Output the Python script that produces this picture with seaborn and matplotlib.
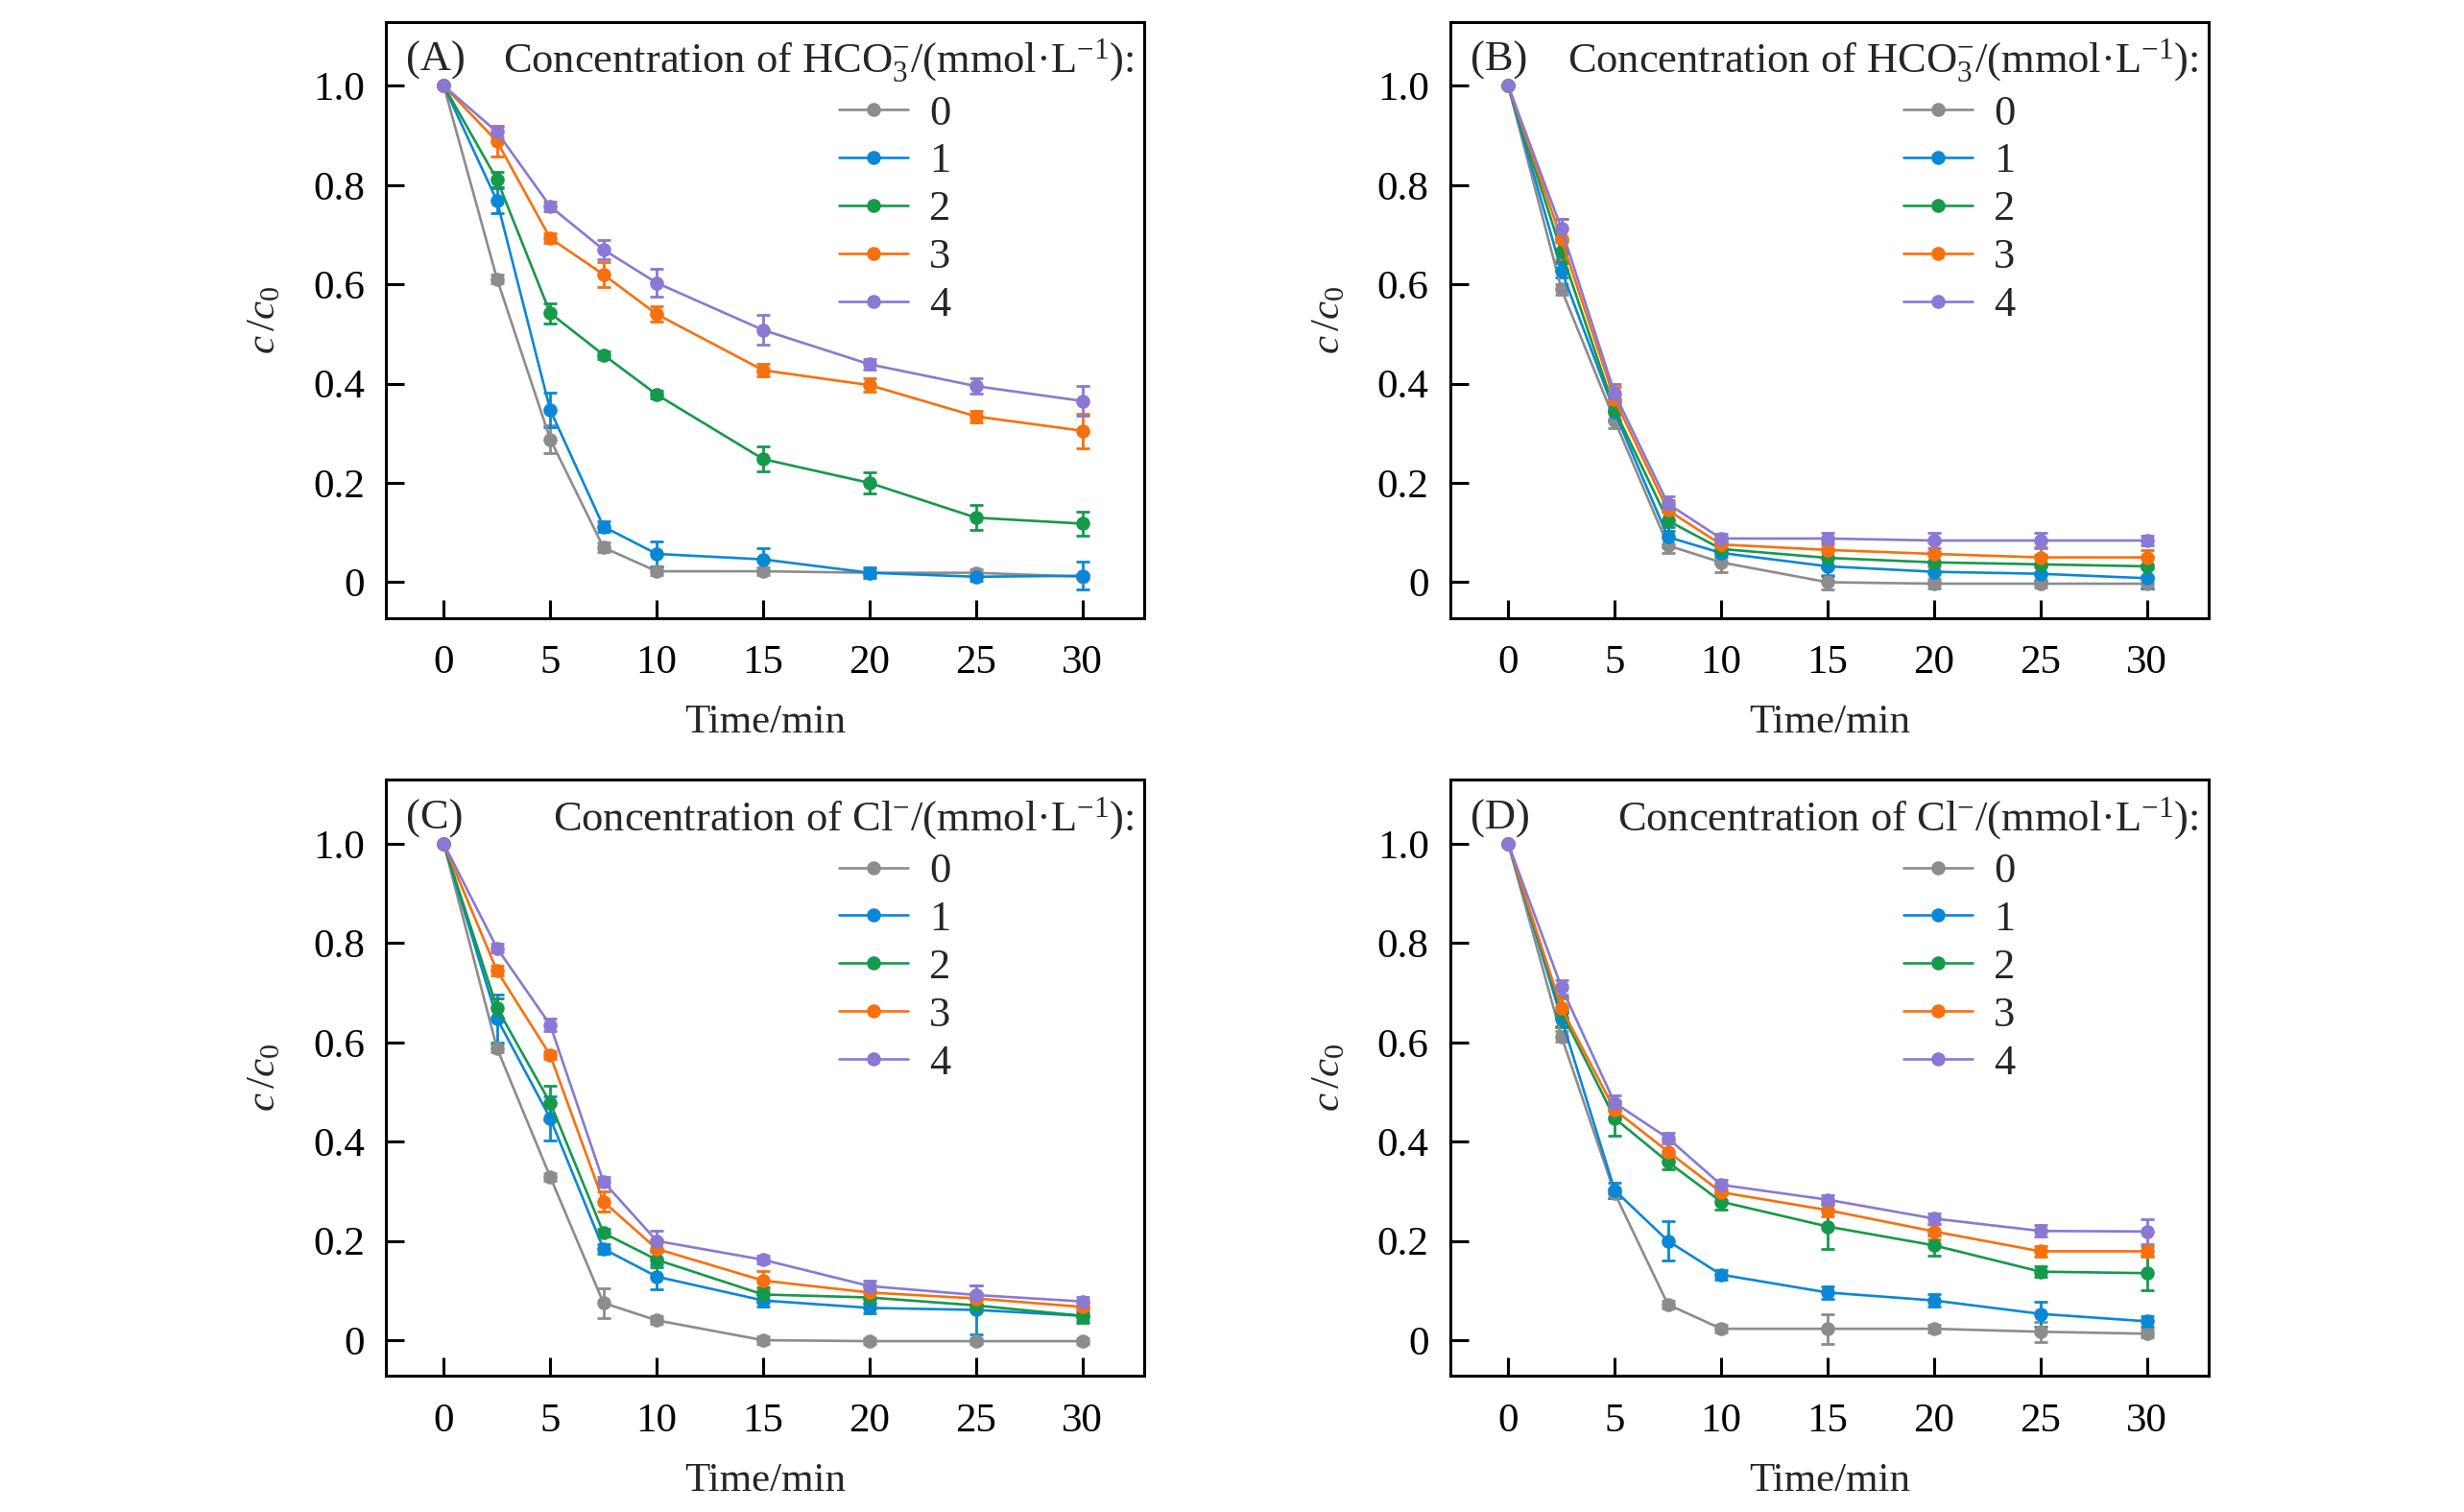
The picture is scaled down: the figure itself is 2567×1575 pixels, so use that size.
import numpy as np
import pandas as pd
import matplotlib
matplotlib.use('Agg')
import matplotlib.pyplot as plt
from matplotlib.lines import Line2D
import seaborn as sns

# time points (min) and concentration levels
times = [0, 2.5, 5, 7.5, 10, 15, 20, 25, 30]
conc_levels = ['0', '1', '2', '3', '4']
colors = ['#8c8c8c', '#0a87d6', '#15994a', '#f7700e', '#8a78d4']

xticks = [0, 5, 10, 15, 20, 25, 30]
yticks = [0, 0.2, 0.4, 0.6, 0.8, 1.0]
yticklabels = ['0', '0.2', '0.4', '0.6', '0.8', '1.0']

# (A) HCO3-
a_0 = [1.0, 0.611, 0.288, 0.070, 0.022, 0.022, 0.019, 0.019, 0.011]
a_1 = [1.0, 0.768, 0.347, 0.112, 0.057, 0.046, 0.019, 0.011, 0.013]
a_2 = [1.0, 0.811, 0.542, 0.458, 0.378, 0.248, 0.200, 0.130, 0.118]
a_3 = [1.0, 0.888, 0.693, 0.620, 0.540, 0.427, 0.397, 0.334, 0.305]
a_4 = [1.0, 0.907, 0.757, 0.670, 0.603, 0.508, 0.439, 0.395, 0.365]
a_0e = [0, 0.008, 0.028, 0.010, 0.008, 0.008, 0.008, 0.008, 0.005]
a_1e = [0, 0.025, 0.034, 0.010, 0.025, 0.022, 0.010, 0.008, 0.028]
a_2e = [0, 0.015, 0.020, 0.008, 0.008, 0.025, 0.022, 0.025, 0.025]
a_3e = [0, 0.031, 0.010, 0.025, 0.015, 0.012, 0.013, 0.012, 0.035]
a_4e = [0, 0.010, 0.010, 0.020, 0.028, 0.030, 0.010, 0.015, 0.030]

# (B) HCO3-
b_0 = [1.0, 0.590, 0.326, 0.074, 0.040, 0.000, -0.003, -0.003, -0.003]
b_1 = [1.0, 0.628, 0.343, 0.091, 0.059, 0.032, 0.021, 0.017, 0.008]
b_2 = [1.0, 0.666, 0.347, 0.124, 0.067, 0.049, 0.040, 0.036, 0.032]
b_3 = [1.0, 0.691, 0.368, 0.145, 0.076, 0.065, 0.057, 0.050, 0.050]
b_4 = [1.0, 0.712, 0.380, 0.158, 0.088, 0.088, 0.084, 0.084, 0.084]
b_0e = [0, 0.010, 0.015, 0.015, 0.020, 0.015, 0.010, 0.008, 0.010]
b_1e = [0, 0.015, 0.020, 0.020, 0.020, 0.020, 0.020, 0.015, 0.020]
b_2e = [0, 0.020, 0.020, 0.020, 0.015, 0.020, 0.020, 0.020, 0.020]
b_3e = [0, 0.040, 0.025, 0.020, 0.015, 0.015, 0.025, 0.020, 0.015]
b_4e = [0, 0.020, 0.020, 0.015, 0.010, 0.012, 0.015, 0.015, 0.010]

# (C) Cl-
c_0 = [1.0, 0.588, 0.329, 0.075, 0.040, 0.000, -0.002, -0.002, -0.002]
c_1 = [1.0, 0.648, 0.447, 0.184, 0.128, 0.080, 0.065, 0.061, 0.049]
c_2 = [1.0, 0.669, 0.478, 0.216, 0.162, 0.092, 0.086, 0.070, 0.049]
c_3 = [1.0, 0.744, 0.574, 0.279, 0.184, 0.120, 0.096, 0.084, 0.067]
c_4 = [1.0, 0.790, 0.635, 0.319, 0.200, 0.162, 0.109, 0.091, 0.078]
c_0e = [0, 0.008, 0.008, 0.030, 0.008, 0.008, 0.005, 0.005, 0.005]
c_1e = [0, 0.048, 0.045, 0.010, 0.025, 0.012, 0.010, 0.049, 0.010]
c_2e = [0, 0.020, 0.035, 0.008, 0.015, 0.015, 0.012, 0.012, 0.015]
c_3e = [0, 0.010, 0.008, 0.020, 0.020, 0.020, 0.012, 0.010, 0.010]
c_4e = [0, 0.008, 0.012, 0.010, 0.020, 0.008, 0.010, 0.020, 0.010]

# (D) Cl-
d_0 = [1.0, 0.612, 0.296, 0.072, 0.023, 0.023, 0.023, 0.017, 0.013]
d_1 = [1.0, 0.648, 0.302, 0.200, 0.132, 0.096, 0.080, 0.053, 0.038]
d_2 = [1.0, 0.661, 0.447, 0.359, 0.279, 0.229, 0.191, 0.138, 0.135]
d_3 = [1.0, 0.669, 0.464, 0.380, 0.298, 0.262, 0.219, 0.179, 0.179]
d_4 = [1.0, 0.711, 0.478, 0.407, 0.313, 0.283, 0.245, 0.220, 0.219]
d_0e = [0, 0.010, 0.010, 0.008, 0.008, 0.030, 0.008, 0.020, 0.008]
d_1e = [0, 0.015, 0.015, 0.040, 0.010, 0.012, 0.012, 0.025, 0.010]
d_2e = [0, 0.030, 0.035, 0.015, 0.015, 0.045, 0.020, 0.010, 0.035]
d_3e = [0, 0.020, 0.015, 0.020, 0.015, 0.012, 0.015, 0.010, 0.010]
d_4e = [0, 0.015, 0.015, 0.010, 0.010, 0.010, 0.010, 0.012, 0.025]

title_hco3 = r'Concentration of HCO$_3^{-}$/(mmol·L$^{-1}$):'
title_cl = r'Concentration of Cl$^{-}$/(mmol·L$^{-1}$):'

panels = [
    ('(A)', title_hco3, [a_0, a_1, a_2, a_3, a_4], [a_0e, a_1e, a_2e, a_3e, a_4e]),
    ('(B)', title_hco3, [b_0, b_1, b_2, b_3, b_4], [b_0e, b_1e, b_2e, b_3e, b_4e]),
    ('(C)', title_cl, [c_0, c_1, c_2, c_3, c_4], [c_0e, c_1e, c_2e, c_3e, c_4e]),
    ('(D)', title_cl, [d_0, d_1, d_2, d_3, d_4], [d_0e, d_1e, d_2e, d_3e, d_4e]),
]

sns.set_style('ticks')
plt.rcParams['font.family'] = ['Liberation Serif', 'DejaVu Serif']
plt.rcParams['mathtext.fontset'] = 'custom'
plt.rcParams['mathtext.rm'] = 'Liberation Serif'
plt.rcParams['mathtext.it'] = 'Liberation Serif:italic'
plt.rcParams['mathtext.bf'] = 'Liberation Serif:bold'

fig = plt.figure(figsize=(25.67, 15.75), dpi=100)
positions = [
    [0.1566, 0.5913, 0.3078, 0.3943],
    [0.5886, 0.5913, 0.3078, 0.3943],
    [0.1566, 0.0900, 0.3078, 0.3943],
    [0.5886, 0.0900, 0.3078, 0.3943],
]

palette = dict(zip(conc_levels, colors))

for pos, (tag, title, series, errs) in zip(positions, panels):
    ax = fig.add_axes(pos)

    rows = []
    for lev, vals, ee in zip(conc_levels, series, errs):
        for t, v, e in zip(times, vals, ee):
            rows.append({'time': t, 'c': v, 'err': e, 'conc': lev})
    df = pd.DataFrame(rows)

    for lev in conc_levels:
        sub = df[df['conc'] == lev]
        ax.errorbar(sub['time'], sub['c'], yerr=sub['err'], fmt='none',
                    ecolor=palette[lev], elinewidth=2, capsize=5, capthick=2)

    sns.lineplot(data=df, x='time', y='c', hue='conc', hue_order=conc_levels,
                 palette=palette, marker='o', markersize=10.5, markeredgewidth=0,
                 linewidth=1.9, errorbar=None, legend=False, ax=ax)

    ax.set_xlim(-2.72, 32.9)
    ax.set_ylim(-0.072, 1.129)
    ax.set_xticks(xticks)
    ax.set_xticklabels([str(x) for x in xticks])
    ax.set_yticks(yticks)
    ax.set_yticklabels(yticklabels)
    ax.tick_params(direction='in', length=14, width=2.2, labelsize=31,
                   colors='black')
    ax.tick_params(axis='x', pad=20)
    ax.tick_params(axis='y', pad=16)
    for sp in ax.spines.values():
        sp.set_visible(True)
        sp.set_linewidth(2.2)
        sp.set_color('black')

    ax.set_xlabel('Time/min', fontsize=31, labelpad=17)
    ax.set_ylabel(r'$c\,/c_0$', fontsize=31, labelpad=22)

    ax.text(0.027, 0.935, tag, transform=ax.transAxes, fontsize=32,
            ha='left', va='center')
    ax.text(0.987, 0.935, title, transform=ax.transAxes, fontsize=32,
            ha='right', va='center')

    handles = [Line2D([], [], color=col, marker='o', markersize=10.5,
                      markeredgewidth=0, linewidth=1.9) for col in colors]
    ax.legend(handles, conc_levels, loc='upper left',
              bbox_to_anchor=(0.598, 0.878), frameon=False, fontsize=32,
              handlelength=1.6, handletextpad=0.5, labelspacing=0.22,
              borderpad=0, borderaxespad=0)

fig.savefig('out.png', dpi=100)
